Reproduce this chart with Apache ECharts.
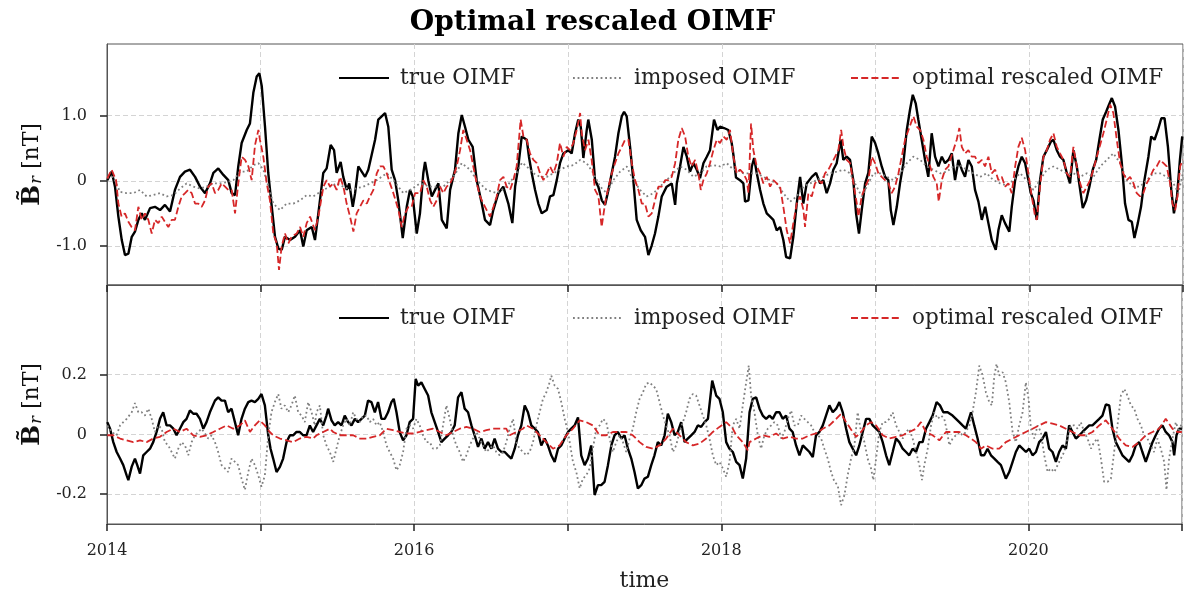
<!DOCTYPE html>
<html>
<head>
<meta charset="utf-8">
<script src="https://cdn.jsdelivr.net/npm/echarts@6/dist/echarts.min.js"></script>
<style>html,body{margin:0;padding:0;background:#fff;}#c{width:1185px;height:595px;}</style>
</head>
<body>
<div id="c"></div>
<script>
const START_YEAR = 2014;
const END_YEAR = 2021;
const TITLE = 'Optimal rescaled OIMF';
const SERIES_NAMES = ['true OIMF', 'imposed OIMF', 'optimal rescaled OIMF'];
const TOP_TICKS = [-1, 0, 1];
const BOTTOM_TICKS = [-0.2, 0, 0.2];

// [years since 2014, value in nT]
const topTrue = [[0.002,0.01],[0.031,0.14],[0.052,-0.09],[0.074,-0.55],[0.096,-0.91],[0.117,-1.14],[0.139,-1.12],[0.161,-0.86],[0.182,-0.78],[0.204,-0.60],[0.226,-0.50],[0.247,-0.60],[0.280,-0.42],[0.312,-0.40],[0.345,-0.45],[0.377,-0.37],[0.410,-0.47],[0.442,-0.14],[0.475,0.06],[0.507,0.14],[0.540,0.17],[0.573,0.06],[0.605,-0.09],[0.638,-0.19],[0.670,-0.04],[0.692,0.12],[0.724,0.19],[0.757,0.09],[0.789,0.01],[0.811,-0.19],[0.833,-0.22],[0.854,0.22],[0.876,0.58],[0.909,0.78],[0.930,0.88],[0.952,1.35],[0.974,1.60],[0.991,1.65],[1.007,1.45],[1.028,0.83],[1.049,0.12],[1.072,-0.40],[1.093,-0.86],[1.115,-1.04],[1.137,-1.06],[1.158,-0.86],[1.191,-0.91],[1.223,-0.86],[1.256,-0.76],[1.277,-1.01],[1.299,-0.76],[1.332,-0.71],[1.353,-0.91],[1.375,-0.50],[1.407,0.12],[1.429,0.19],[1.455,0.55],[1.477,0.47],[1.494,0.12],[1.520,0.29],[1.537,0.06],[1.560,-0.14],[1.576,-0.04],[1.599,-0.40],[1.614,-0.19],[1.635,0.22],[1.657,0.14],[1.679,0.06],[1.700,0.17],[1.722,0.40],[1.744,0.63],[1.765,0.94],[1.787,0.99],[1.809,1.04],[1.830,0.83],[1.852,0.17],[1.874,0.01],[1.895,-0.30],[1.924,-0.88],[1.950,-0.40],[1.971,-0.14],[1.989,-0.24],[2.015,-0.81],[2.036,-0.50],[2.058,0.12],[2.069,0.29],[2.090,0.01],[2.113,-0.24],[2.134,-0.14],[2.156,-0.04],[2.178,-0.60],[2.210,-0.73],[2.232,-0.14],[2.264,0.17],[2.286,0.73],[2.308,1.01],[2.329,0.83],[2.351,0.63],[2.379,0.52],[2.405,0.01],[2.438,-0.35],[2.459,-0.60],[2.492,-0.68],[2.513,-0.45],[2.546,-0.19],[2.578,-0.09],[2.611,-0.35],[2.637,-0.65],[2.655,-0.09],[2.676,0.22],[2.698,0.68],[2.731,0.63],[2.745,0.37],[2.763,0.12],[2.785,-0.14],[2.806,-0.35],[2.828,-0.50],[2.861,-0.45],[2.882,-0.24],[2.904,-0.22],[2.926,0.01],[2.947,0.27],[2.969,0.42],[3.001,0.47],[3.023,0.42],[3.045,0.73],[3.066,0.94],[3.082,0.83],[3.099,0.35],[3.121,0.78],[3.131,0.94],[3.154,0.63],[3.175,0.01],[3.196,-0.09],[3.219,-0.30],[3.240,-0.37],[3.262,-0.14],[3.284,0.12],[3.305,0.37],[3.327,0.73],[3.349,0.99],[3.364,1.06],[3.381,0.99],[3.403,0.52],[3.424,0.01],[3.446,-0.60],[3.472,-0.76],[3.500,-0.86],[3.522,-1.14],[3.544,-0.99],[3.565,-0.81],[3.587,-0.55],[3.609,-0.24],[3.641,-0.09],[3.674,-0.04],[3.696,-0.37],[3.707,-0.04],[3.728,0.22],[3.750,0.52],[3.772,0.37],[3.793,0.14],[3.815,0.27],[3.837,0.17],[3.858,0.04],[3.880,0.27],[3.902,0.37],[3.923,0.47],[3.949,0.94],[3.971,0.78],[3.988,0.83],[4.014,0.81],[4.042,0.78],[4.064,0.58],[4.075,0.40],[4.092,0.05],[4.118,0.01],[4.140,-0.04],[4.151,-0.32],[4.173,-0.30],[4.195,0.22],[4.210,0.35],[4.227,0.12],[4.249,-0.14],[4.270,-0.35],[4.292,-0.50],[4.314,-0.55],[4.335,-0.60],[4.357,-0.76],[4.379,-0.71],[4.400,-0.91],[4.418,-1.17],[4.444,-1.19],[4.465,-0.86],[4.487,-0.35],[4.509,0.06],[4.530,-0.35],[4.552,-0.04],[4.585,0.06],[4.613,0.12],[4.639,-0.04],[4.660,0.01],[4.682,-0.19],[4.704,-0.04],[4.725,0.17],[4.747,0.27],[4.773,0.63],[4.790,0.32],[4.812,0.37],[4.834,0.32],[4.855,0.01],[4.873,-0.50],[4.892,-0.81],[4.910,-0.45],[4.932,-0.04],[4.953,0.12],[4.975,0.68],[4.997,0.58],[5.018,0.42],[5.040,0.22],[5.062,0.06],[5.083,0.01],[5.099,-0.45],[5.116,-0.68],[5.138,-0.40],[5.159,-0.04],[5.181,0.27],[5.203,0.78],[5.224,1.09],[5.242,1.32],[5.261,1.19],[5.278,0.94],[5.300,0.63],[5.322,0.32],[5.343,0.06],[5.365,0.73],[5.387,0.37],[5.409,0.22],[5.431,0.37],[5.452,0.27],[5.474,0.32],[5.496,0.42],[5.517,0.01],[5.539,0.32],[5.561,0.17],[5.582,0.06],[5.604,0.32],[5.626,0.22],[5.647,-0.14],[5.669,-0.32],[5.691,-0.60],[5.713,-0.40],[5.734,-0.65],[5.756,-0.91],[5.782,-1.06],[5.799,-0.76],[5.821,-0.53],[5.842,-0.65],[5.870,-0.78],[5.886,-0.40],[5.908,0.01],[5.929,0.22],[5.951,0.37],[5.973,0.27],[5.994,0.01],[6.010,-0.19],[6.027,-0.30],[6.049,-0.60],[6.070,0.01],[6.092,0.37],[6.114,0.47],[6.140,0.60],[6.157,0.63],[6.179,0.47],[6.200,0.37],[6.222,0.32],[6.244,0.12],[6.265,-0.04],[6.287,0.47],[6.309,0.22],[6.331,-0.14],[6.348,-0.42],[6.370,-0.30],[6.391,-0.09],[6.413,0.17],[6.435,0.32],[6.456,0.63],[6.478,0.94],[6.500,1.06],[6.519,1.17],[6.537,1.27],[6.558,1.14],[6.580,0.78],[6.602,0.27],[6.623,-0.35],[6.645,-0.60],[6.667,-0.63],[6.684,-0.88],[6.706,-0.65],[6.727,-0.40],[6.749,0.01],[6.775,0.37],[6.793,0.68],[6.815,0.63],[6.837,0.78],[6.859,0.96],[6.880,0.96],[6.902,0.52],[6.924,-0.14],[6.941,-0.50],[6.961,-0.24],[6.980,0.32],[6.995,0.68]];

const topImposed = [[0.002,0.05],[0.041,0.06],[0.085,-0.17],[0.128,-0.19],[0.171,-0.19],[0.215,-0.14],[0.258,-0.24],[0.301,-0.22],[0.345,-0.19],[0.388,-0.24],[0.432,-0.22],[0.475,-0.12],[0.518,-0.04],[0.562,-0.09],[0.605,-0.12],[0.648,-0.09],[0.692,-0.04],[0.735,-0.04],[0.779,-0.02],[0.822,0.01],[0.865,0.14],[0.909,0.14],[0.952,0.24],[0.985,0.27],[1.017,0.17],[1.050,-0.09],[1.082,-0.35],[1.126,-0.45],[1.169,-0.35],[1.212,-0.35],[1.256,-0.30],[1.299,-0.22],[1.342,-0.24],[1.408,-0.14],[1.494,-0.04],[1.581,-0.14],[1.668,-0.09],[1.755,0.01],[1.820,0.115],[1.863,0.01],[1.928,-0.19],[1.971,-0.14],[2.036,-0.04],[2.102,-0.09],[2.188,-0.09],[2.253,0.06],[2.308,0.27],[2.362,0.17],[2.405,0.01],[2.470,-0.14],[2.535,-0.19],[2.600,-0.09],[2.665,0.115],[2.700,0.28],[2.731,0.22],[2.774,0.115],[2.817,0.06],[2.861,0.06],[2.904,0.115],[2.947,0.17],[2.991,0.22],[3.034,0.24],[3.078,0.32],[3.121,0.27],[3.164,0.115],[3.208,-0.09],[3.251,-0.19],[3.294,0.01],[3.338,0.14],[3.381,0.22],[3.424,0.01],[3.468,-0.14],[3.511,-0.24],[3.555,-0.19],[3.598,-0.09],[3.641,0.01],[3.685,0.115],[3.728,0.22],[3.771,0.17],[3.815,0.06],[3.858,0.115],[3.901,0.22],[3.945,0.24],[3.988,0.22],[4.032,0.27],[4.075,0.17],[4.097,0.17],[4.140,0.115],[4.184,0.115],[4.227,0.115],[4.270,0.06],[4.314,0.01],[4.357,-0.04],[4.400,-0.19],[4.444,-0.32],[4.487,-0.24],[4.531,-0.09],[4.574,-0.04],[4.617,0.01],[4.661,0.06],[4.704,0.115],[4.747,0.14],[4.791,0.17],[4.834,0.115],[4.877,-0.09],[4.910,-0.24],[4.943,-0.09],[4.986,0.115],[5.029,0.115],[5.073,0.06],[5.116,0.01],[5.160,0.115],[5.203,0.27],[5.246,0.37],[5.290,0.32],[5.333,0.22],[5.376,0.17],[5.420,0.115],[5.463,0.14],[5.506,0.22],[5.550,0.24],[5.593,0.17],[5.636,0.115],[5.680,0.06],[5.723,0.115],[5.766,0.01],[5.810,-0.04],[5.853,-0.07],[5.897,0.01],[5.940,0.115],[5.983,0.01],[6.027,-0.14],[6.070,0.01],[6.114,0.17],[6.157,0.22],[6.200,0.17],[6.244,0.115],[6.287,0.115],[6.330,0.06],[6.374,0.115],[6.417,0.06],[6.461,0.22],[6.504,0.32],[6.547,0.42],[6.591,0.27],[6.634,0.01],[6.678,-0.09],[6.721,-0.09],[6.764,0.01],[6.808,0.115],[6.851,0.115],[6.894,0.06],[6.938,-0.04],[6.970,-0.19],[6.999,0.115]];

const topOptimal = [[0.002,0.035],[0.030,0.17],[0.059,0.01],[0.074,-0.35],[0.095,-0.55],[0.117,-0.50],[0.139,-0.63],[0.160,-0.71],[0.182,-0.76],[0.204,-0.40],[0.226,-0.60],[0.247,-0.50],[0.269,-0.60],[0.291,-0.81],[0.312,-0.60],[0.334,-0.65],[0.356,-0.55],[0.377,-0.63],[0.399,-0.71],[0.421,-0.60],[0.442,-0.60],[0.464,-0.40],[0.486,-0.24],[0.508,-0.19],[0.529,-0.14],[0.551,-0.19],[0.573,-0.35],[0.594,-0.35],[0.616,-0.40],[0.638,-0.30],[0.659,-0.09],[0.681,-0.04],[0.703,-0.19],[0.724,-0.14],[0.746,-0.04],[0.768,-0.09],[0.789,-0.14],[0.811,-0.14],[0.833,-0.50],[0.854,-0.04],[0.876,0.37],[0.898,0.32],[0.920,0.22],[0.941,0.01],[0.963,0.55],[0.985,0.78],[0.995,0.63],[1.017,0.37],[1.039,-0.04],[1.060,-0.30],[1.082,-0.81],[1.104,-0.96],[1.119,-1.37],[1.136,-1.01],[1.158,-0.81],[1.180,-0.96],[1.201,-0.86],[1.234,-0.81],[1.256,-0.71],[1.277,-0.86],[1.299,-0.65],[1.321,-0.55],[1.353,-0.76],[1.375,-0.55],[1.408,-0.09],[1.429,0.01],[1.451,-0.09],[1.473,-0.04],[1.494,-0.14],[1.516,0.06],[1.538,-0.09],[1.559,-0.35],[1.581,-0.55],[1.603,-0.78],[1.624,-0.50],[1.646,-0.40],[1.668,-0.30],[1.690,-0.35],[1.711,-0.24],[1.733,-0.14],[1.755,0.115],[1.776,0.22],[1.798,0.22],[1.820,0.115],[1.841,-0.04],[1.863,-0.19],[1.896,-0.45],[1.917,-0.71],[1.939,-0.50],[1.961,-0.40],[1.982,-0.40],[2.004,-0.19],[2.037,-0.19],[2.058,0.01],[2.080,-0.09],[2.102,-0.30],[2.123,-0.40],[2.145,-0.30],[2.167,-0.09],[2.188,-0.19],[2.210,-0.09],[2.232,-0.04],[2.253,0.06],[2.275,0.22],[2.297,0.47],[2.318,0.78],[2.340,0.63],[2.362,0.47],[2.383,0.22],[2.405,-0.04],[2.427,-0.24],[2.448,-0.35],[2.470,-0.45],[2.492,-0.55],[2.514,-0.40],[2.535,-0.24],[2.557,0.01],[2.579,0.06],[2.600,-0.09],[2.622,-0.14],[2.644,0.01],[2.665,0.22],[2.691,0.94],[2.709,0.68],[2.730,0.63],[2.752,0.42],[2.774,0.32],[2.796,0.27],[2.817,0.115],[2.839,0.01],[2.861,0.115],[2.882,0.22],[2.904,0.115],[2.926,0.27],[2.947,0.58],[2.969,0.37],[2.991,0.52],[3.012,0.47],[3.034,0.58],[3.056,0.78],[3.078,1.04],[3.088,0.73],[3.110,0.47],[3.132,0.63],[3.153,0.32],[3.175,-0.14],[3.197,-0.24],[3.218,-0.71],[3.240,-0.35],[3.262,-0.09],[3.284,0.115],[3.305,0.27],[3.327,0.42],[3.349,0.52],[3.370,0.63],[3.392,0.63],[3.414,0.27],[3.435,0.01],[3.457,-0.14],[3.479,-0.35],[3.500,-0.35],[3.522,-0.55],[3.544,-0.50],[3.565,-0.30],[3.587,-0.09],[3.609,-0.09],[3.631,0.01],[3.652,0.01],[3.674,0.06],[3.696,0.27],[3.717,0.63],[3.739,0.81],[3.761,0.68],[3.782,0.37],[3.804,0.22],[3.826,0.32],[3.847,0.115],[3.863,-0.14],[3.880,0.01],[3.902,0.115],[3.923,0.27],[3.945,0.47],[3.967,0.63],[3.988,0.58],[4.010,0.68],[4.032,0.63],[4.053,0.78],[4.075,0.37],[4.097,0.115],[4.118,0.17],[4.140,0.115],[4.162,0.01],[4.173,-0.19],[4.190,0.88],[4.205,0.47],[4.227,0.22],[4.249,0.115],[4.270,-0.04],[4.292,0.06],[4.314,-0.09],[4.335,0.01],[4.357,-0.04],[4.379,-0.09],[4.400,-0.40],[4.422,-0.76],[4.444,-0.96],[4.465,-0.65],[4.487,-0.35],[4.509,-0.24],[4.531,-0.45],[4.541,-0.71],[4.563,-0.19],[4.585,-0.24],[4.606,-0.04],[4.628,0.01],[4.650,-0.04],[4.671,0.115],[4.693,0.17],[4.715,0.27],[4.737,0.37],[4.758,0.47],[4.776,0.78],[4.791,0.52],[4.812,0.32],[4.834,0.27],[4.856,-0.04],[4.878,-0.35],[4.888,-0.55],[4.910,-0.24],[4.932,-0.09],[4.953,0.01],[4.975,0.37],[4.997,0.27],[5.018,0.115],[5.040,0.06],[5.062,0.01],[5.084,-0.04],[5.105,-0.19],[5.127,-0.09],[5.149,0.115],[5.170,0.37],[5.192,0.63],[5.214,0.78],[5.246,0.99],[5.268,0.83],[5.290,0.78],[5.311,0.63],[5.333,0.37],[5.355,0.22],[5.376,0.06],[5.398,-0.04],[5.411,-0.32],[5.431,0.01],[5.452,0.17],[5.474,0.22],[5.485,0.32],[5.506,0.47],[5.528,0.63],[5.545,0.81],[5.561,0.52],[5.582,0.42],[5.604,0.47],[5.626,0.37],[5.647,0.37],[5.669,0.27],[5.691,0.32],[5.712,0.22],[5.734,0.37],[5.756,0.115],[5.778,0.17],[5.799,0.01],[5.821,0.06],[5.843,-0.09],[5.864,-0.04],[5.886,-0.19],[5.908,0.22],[5.929,0.52],[5.951,0.66],[5.973,0.47],[5.994,0.115],[6.016,-0.24],[6.038,-0.55],[6.049,-0.60],[6.070,-0.09],[6.092,0.37],[6.114,0.47],[6.135,0.63],[6.157,0.73],[6.179,0.52],[6.200,0.42],[6.222,0.32],[6.244,0.115],[6.265,0.06],[6.287,0.52],[6.309,0.22],[6.331,-0.04],[6.352,-0.19],[6.374,-0.09],[6.396,0.01],[6.417,0.17],[6.439,0.37],[6.461,0.55],[6.482,0.73],[6.504,0.94],[6.526,1.17],[6.547,1.04],[6.569,0.63],[6.591,0.27],[6.612,0.115],[6.634,0.01],[6.656,0.06],[6.678,-0.04],[6.699,-0.19],[6.721,-0.24],[6.742,-0.19],[6.764,-0.04],[6.786,0.06],[6.808,0.17],[6.829,0.22],[6.851,0.32],[6.873,0.27],[6.894,0.22],[6.916,-0.04],[6.931,-0.35],[6.949,-0.45],[6.964,-0.24],[6.981,0.22],[6.999,0.32]];

const bottomTrue = [[0.002,0.041],[0.020,0.019],[0.041,-0.026],[0.063,-0.059],[0.085,-0.081],[0.106,-0.103],[0.128,-0.137],[0.139,-0.153],[0.161,-0.108],[0.182,-0.081],[0.197,-0.103],[0.215,-0.131],[0.236,-0.070],[0.258,-0.059],[0.280,-0.048],[0.301,-0.026],[0.323,0.008],[0.345,0.052],[0.366,0.074],[0.388,0.030],[0.410,0.030],[0.432,0.019],[0.453,-0.003],[0.475,0.019],[0.497,0.041],[0.518,0.052],[0.540,0.080],[0.562,0.069],[0.583,0.069],[0.605,0.052],[0.627,0.019],[0.648,0.041],[0.670,0.074],[0.703,0.113],[0.724,0.124],[0.746,0.113],[0.768,0.113],[0.789,0.074],[0.811,0.086],[0.833,0.041],[0.854,-0.003],[0.876,0.052],[0.898,0.086],[0.920,0.108],[0.941,0.113],[0.963,0.108],[0.985,0.119],[1.006,0.135],[1.028,0.097],[1.050,-0.003],[1.065,-0.048],[1.082,-0.081],[1.104,-0.126],[1.126,-0.109],[1.147,-0.081],[1.169,-0.026],[1.191,-0.003],[1.212,-0.003],[1.234,0.008],[1.256,0.008],[1.277,-0.003],[1.299,-0.003],[1.321,0.030],[1.342,0.008],[1.364,0.030],[1.386,0.052],[1.408,0.030],[1.429,0.063],[1.440,0.086],[1.462,0.047],[1.483,0.030],[1.505,0.041],[1.527,0.030],[1.548,0.063],[1.570,0.041],[1.592,0.030],[1.614,0.052],[1.635,0.041],[1.657,0.052],[1.679,0.063],[1.700,0.113],[1.722,0.108],[1.744,0.074],[1.765,0.108],[1.787,0.052],[1.809,0.052],[1.830,0.074],[1.852,0.108],[1.867,0.119],[1.885,0.074],[1.906,0.008],[1.928,-0.020],[1.950,-0.003],[1.971,0.041],[1.993,0.052],[2.010,0.186],[2.026,0.163],[2.047,0.174],[2.069,0.152],[2.091,0.130],[2.112,0.074],[2.134,0.041],[2.156,0.008],[2.177,-0.026],[2.199,-0.014],[2.221,-0.003],[2.242,0.008],[2.264,0.030],[2.286,0.124],[2.308,0.141],[2.329,0.086],[2.351,0.074],[2.373,0.030],[2.394,-0.003],[2.416,-0.042],[2.438,-0.014],[2.459,-0.048],[2.481,-0.026],[2.503,-0.048],[2.524,-0.014],[2.546,-0.048],[2.568,-0.059],[2.590,-0.059],[2.611,-0.070],[2.633,-0.081],[2.655,-0.048],[2.676,-0.003],[2.698,0.030],[2.720,0.097],[2.741,0.074],[2.763,0.030],[2.785,0.019],[2.806,0.008],[2.828,-0.037],[2.850,-0.014],[2.871,-0.037],[2.893,-0.070],[2.915,-0.092],[2.937,-0.048],[2.958,-0.037],[2.980,-0.014],[3.002,0.008],[3.023,0.019],[3.045,0.030],[3.067,0.057],[3.088,-0.070],[3.110,-0.103],[3.132,-0.081],[3.153,-0.037],[3.175,-0.203],[3.197,-0.170],[3.218,-0.170],[3.240,-0.159],[3.262,-0.103],[3.284,-0.037],[3.305,-0.003],[3.327,0.008],[3.349,-0.014],[3.370,-0.003],[3.392,-0.048],[3.414,-0.081],[3.435,-0.126],[3.457,-0.181],[3.479,-0.170],[3.500,-0.148],[3.522,-0.142],[3.544,-0.103],[3.565,-0.070],[3.587,-0.026],[3.609,-0.037],[3.631,-0.003],[3.652,0.069],[3.674,0.041],[3.696,-0.003],[3.717,0.008],[3.739,0.041],[3.761,-0.026],[3.782,-0.014],[3.804,-0.003],[3.826,0.008],[3.847,0.030],[3.869,0.025],[3.891,0.041],[3.913,0.052],[3.941,0.180],[3.967,0.130],[3.988,0.119],[4.010,0.074],[4.032,-0.026],[4.053,-0.048],[4.075,-0.059],[4.097,-0.092],[4.119,-0.103],[4.140,-0.148],[4.162,-0.081],[4.184,0.074],[4.205,0.119],[4.227,0.124],[4.249,0.086],[4.270,0.063],[4.292,0.052],[4.314,0.063],[4.335,0.052],[4.357,0.074],[4.379,0.074],[4.400,0.052],[4.422,0.063],[4.444,0.019],[4.465,0.008],[4.487,-0.037],[4.509,-0.070],[4.531,-0.037],[4.552,-0.048],[4.574,-0.059],[4.596,-0.076],[4.617,-0.003],[4.639,0.008],[4.661,0.030],[4.682,0.063],[4.704,0.097],[4.726,0.074],[4.748,0.086],[4.769,0.108],[4.791,0.074],[4.813,0.019],[4.834,-0.026],[4.856,-0.048],[4.878,-0.070],[4.899,-0.037],[4.921,0.008],[4.943,0.052],[4.964,0.052],[4.986,0.030],[5.008,0.019],[5.029,0.008],[5.051,-0.026],[5.073,-0.070],[5.094,-0.103],[5.116,-0.059],[5.138,-0.014],[5.159,-0.026],[5.181,-0.048],[5.203,-0.059],[5.224,-0.070],[5.246,-0.048],[5.268,-0.059],[5.290,-0.026],[5.311,-0.026],[5.333,0.019],[5.355,0.041],[5.376,0.063],[5.402,0.108],[5.424,0.097],[5.446,0.074],[5.474,0.074],[5.485,0.069],[5.506,0.063],[5.528,0.052],[5.550,0.041],[5.571,0.030],[5.593,0.019],[5.626,0.074],[5.647,0.030],[5.669,-0.014],[5.691,-0.070],[5.712,-0.070],[5.734,-0.048],[5.756,-0.070],[5.778,-0.081],[5.799,-0.092],[5.821,-0.103],[5.853,-0.148],[5.875,-0.126],[5.897,-0.092],[5.918,-0.059],[5.940,-0.037],[5.962,-0.048],[5.984,-0.059],[6.005,-0.048],[6.027,-0.070],[6.049,-0.059],[6.070,-0.026],[6.092,-0.014],[6.114,0.008],[6.135,-0.048],[6.157,-0.059],[6.179,-0.092],[6.200,-0.059],[6.222,-0.037],[6.244,-0.048],[6.265,0.030],[6.287,0.008],[6.309,-0.014],[6.331,-0.003],[6.352,0.008],[6.374,0.019],[6.396,0.030],[6.417,0.030],[6.439,0.041],[6.461,0.052],[6.482,0.063],[6.504,0.100],[6.526,0.097],[6.547,0.019],[6.569,-0.026],[6.591,-0.048],[6.612,-0.070],[6.634,-0.081],[6.656,-0.092],[6.678,-0.070],[6.699,-0.037],[6.721,-0.026],[6.742,-0.059],[6.764,-0.092],[6.786,-0.059],[6.808,-0.026],[6.829,-0.003],[6.851,0.019],[6.873,0.030],[6.894,0.008],[6.916,-0.003],[6.938,-0.026],[6.949,-0.070],[6.964,-0.003],[6.981,0.019],[6.999,0.019]];

const bottomImposed = [[0.002,0.030],[0.030,0.008],[0.063,-0.003],[0.085,0.030],[0.106,0.041],[0.128,0.052],[0.161,0.074],[0.182,0.105],[0.204,0.074],[0.226,0.074],[0.247,0.063],[0.269,0.086],[0.291,0.052],[0.312,0.008],[0.334,0.030],[0.356,0.019],[0.377,-0.026],[0.399,-0.037],[0.421,-0.059],[0.442,-0.081],[0.464,-0.048],[0.486,-0.026],[0.508,-0.037],[0.529,-0.070],[0.551,-0.026],[0.573,-0.003],[0.594,0.008],[0.616,0.019],[0.638,0.003],[0.659,-0.014],[0.681,-0.003],[0.703,-0.026],[0.724,-0.059],[0.746,-0.103],[0.768,-0.114],[0.789,-0.126],[0.811,-0.081],[0.833,-0.092],[0.854,-0.103],[0.876,-0.148],[0.898,-0.186],[0.920,-0.126],[0.941,-0.081],[0.963,-0.103],[0.985,-0.137],[1.006,-0.175],[1.028,-0.137],[1.050,-0.003],[1.071,0.074],[1.093,0.108],[1.115,0.135],[1.136,0.086],[1.158,0.097],[1.180,0.074],[1.201,0.097],[1.223,0.130],[1.245,0.074],[1.267,0.063],[1.288,0.041],[1.310,0.108],[1.332,0.074],[1.353,0.030],[1.364,0.074],[1.386,0.097],[1.408,-0.003],[1.429,-0.037],[1.451,-0.059],[1.473,-0.092],[1.494,-0.048],[1.516,-0.003],[1.538,0.030],[1.559,0.052],[1.581,0.030],[1.603,0.074],[1.624,0.052],[1.646,0.041],[1.668,0.063],[1.690,0.063],[1.711,0.041],[1.733,0.052],[1.755,0.030],[1.776,0.041],[1.798,0.008],[1.820,-0.037],[1.841,-0.059],[1.863,-0.081],[1.885,-0.120],[1.906,-0.103],[1.928,-0.059],[1.950,0.019],[1.971,0.030],[1.993,0.019],[2.015,0.052],[2.036,0.030],[2.058,-0.003],[2.080,-0.026],[2.102,-0.026],[2.123,-0.048],[2.145,-0.048],[2.167,-0.037],[2.188,0.030],[2.210,0.097],[2.232,0.052],[2.253,-0.003],[2.275,-0.037],[2.297,-0.059],[2.318,-0.092],[2.340,-0.070],[2.362,-0.037],[2.383,-0.014],[2.405,0.008],[2.427,-0.014],[2.448,-0.037],[2.470,-0.059],[2.492,-0.048],[2.514,-0.037],[2.535,-0.059],[2.557,-0.070],[2.579,-0.059],[2.600,-0.026],[2.622,0.019],[2.644,0.052],[2.665,-0.026],[2.687,-0.048],[2.709,-0.059],[2.731,-0.070],[2.752,-0.059],[2.774,-0.026],[2.796,0.030],[2.817,0.074],[2.839,0.119],[2.861,0.141],[2.882,0.174],[2.893,0.197],[2.915,0.163],[2.937,0.152],[2.958,0.108],[2.980,0.052],[3.002,0.008],[3.034,-0.092],[3.056,-0.126],[3.078,-0.181],[3.099,-0.148],[3.121,-0.137],[3.143,-0.114],[3.164,-0.048],[3.186,0.019],[3.208,0.030],[3.229,0.052],[3.251,0.041],[3.273,-0.014],[3.294,-0.059],[3.316,-0.026],[3.338,-0.003],[3.360,-0.026],[3.381,-0.059],[3.403,-0.014],[3.424,0.019],[3.446,0.074],[3.468,0.119],[3.490,0.141],[3.511,0.169],[3.533,0.174],[3.555,0.163],[3.576,0.152],[3.598,0.108],[3.620,0.063],[3.641,0.030],[3.663,-0.003],[3.685,-0.059],[3.706,-0.037],[3.728,0.008],[3.750,0.041],[3.771,0.074],[3.793,0.119],[3.815,0.135],[3.836,0.130],[3.858,0.097],[3.880,0.063],[3.902,0.030],[3.923,-0.014],[3.945,-0.070],[3.967,-0.103],[3.988,-0.092],[4.010,-0.114],[4.032,-0.142],[4.053,-0.092],[4.075,0.030],[4.097,0.052],[4.119,0.019],[4.140,0.097],[4.162,0.174],[4.179,0.230],[4.194,0.130],[4.216,0.074],[4.238,-0.003],[4.259,-0.048],[4.281,-0.003],[4.303,0.019],[4.325,0.030],[4.346,0.041],[4.368,0.030],[4.390,-0.014],[4.411,0.008],[4.433,0.052],[4.455,0.080],[4.476,0.030],[4.498,0.030],[4.520,0.063],[4.541,0.052],[4.563,0.041],[4.585,0.030],[4.606,0.008],[4.628,-0.003],[4.650,-0.014],[4.671,-0.048],[4.693,-0.081],[4.715,-0.126],[4.737,-0.159],[4.758,-0.170],[4.780,-0.237],[4.802,-0.203],[4.823,-0.137],[4.845,-0.081],[4.867,-0.037],[4.888,0.074],[4.910,0.008],[4.932,-0.026],[4.953,-0.081],[4.975,-0.114],[4.990,-0.153],[5.008,-0.081],[5.029,0.008],[5.051,0.041],[5.073,0.041],[5.094,0.052],[5.116,0.074],[5.138,0.030],[5.160,0.008],[5.181,-0.014],[5.203,0.008],[5.224,0.019],[5.246,-0.014],[5.268,-0.059],[5.290,-0.103],[5.307,-0.153],[5.322,-0.103],[5.344,-0.048],[5.366,0.030],[5.387,0.074],[5.409,0.052],[5.431,0.063],[5.452,0.052],[5.470,0.010],[5.485,-0.037],[5.506,-0.014],[5.528,-0.003],[5.550,0.008],[5.571,-0.003],[5.593,0.008],[5.615,0.030],[5.636,0.074],[5.658,0.141],[5.680,0.230],[5.702,0.197],[5.723,0.141],[5.745,0.108],[5.762,0.097],[5.778,0.197],[5.793,0.236],[5.810,0.197],[5.832,0.208],[5.853,0.174],[5.875,0.108],[5.897,0.008],[5.918,-0.026],[5.940,0.030],[5.962,0.074],[5.983,0.174],[6.001,0.119],[6.016,0.019],[6.038,-0.014],[6.060,0.030],[6.081,0.008],[6.103,-0.070],[6.125,-0.126],[6.146,-0.114],[6.168,-0.126],[6.190,-0.103],[6.211,-0.081],[6.233,-0.059],[6.254,-0.014],[6.276,0.030],[6.298,0.030],[6.320,0.019],[6.341,0.041],[6.363,0.008],[6.385,-0.014],[6.407,-0.048],[6.428,-0.026],[6.450,-0.014],[6.472,-0.081],[6.493,-0.159],[6.515,-0.159],[6.537,-0.148],[6.558,-0.059],[6.580,0.030],[6.602,0.130],[6.624,0.152],[6.645,0.130],[6.667,0.097],[6.689,0.086],[6.710,0.052],[6.732,0.030],[6.753,-0.003],[6.775,-0.014],[6.797,-0.037],[6.818,-0.059],[6.840,-0.014],[6.862,-0.048],[6.884,-0.092],[6.899,-0.186],[6.916,-0.081],[6.938,-0.014],[6.960,0.041],[6.981,0.008],[6.999,0.041]];

const bottomOptimal = [[0.002,-0.003],[0.041,-0.003],[0.085,-0.014],[0.128,-0.020],[0.171,-0.026],[0.215,-0.020],[0.258,-0.026],[0.301,-0.014],[0.345,-0.008],[0.388,0.008],[0.432,0.019],[0.475,0.008],[0.518,0.019],[0.562,-0.003],[0.605,-0.008],[0.648,-0.003],[0.692,0.008],[0.735,0.019],[0.779,0.030],[0.822,0.019],[0.865,0.030],[0.898,0.047],[0.931,0.008],[0.963,0.030],[0.995,0.047],[1.028,0.030],[1.060,0.008],[1.082,-0.003],[1.126,-0.014],[1.169,-0.020],[1.212,-0.026],[1.256,-0.014],[1.299,-0.008],[1.342,-0.014],[1.364,-0.003],[1.408,0.008],[1.451,0.019],[1.473,0.008],[1.516,-0.003],[1.559,-0.003],[1.603,-0.003],[1.646,-0.014],[1.690,-0.014],[1.733,-0.008],[1.776,-0.003],[1.820,0.019],[1.863,0.014],[1.906,0.008],[1.950,0.003],[1.993,0.003],[2.036,0.008],[2.080,0.014],[2.123,0.019],[2.167,0.008],[2.210,-0.003],[2.253,0.008],[2.297,0.019],[2.340,0.025],[2.383,0.019],[2.427,0.008],[2.470,0.014],[2.514,0.019],[2.557,0.019],[2.600,0.019],[2.622,-0.003],[2.665,0.008],[2.709,0.019],[2.731,0.030],[2.774,0.019],[2.817,-0.003],[2.861,-0.026],[2.904,-0.048],[2.947,-0.037],[2.991,-0.003],[3.034,0.019],[3.078,0.047],[3.121,0.041],[3.164,0.030],[3.208,-0.003],[3.251,-0.003],[3.294,0.008],[3.338,0.008],[3.381,0.008],[3.424,-0.003],[3.468,-0.026],[3.511,-0.042],[3.554,-0.048],[3.598,-0.037],[3.641,-0.014],[3.685,0.019],[3.728,-0.003],[3.771,-0.026],[3.815,-0.037],[3.858,-0.031],[3.902,-0.014],[3.945,0.008],[3.988,0.025],[4.032,0.041],[4.075,0.019],[4.097,-0.003],[4.140,-0.026],[4.173,-0.053],[4.184,-0.026],[4.227,-0.014],[4.270,-0.003],[4.314,-0.008],[4.357,0.003],[4.400,-0.014],[4.444,-0.008],[4.487,-0.014],[4.531,-0.014],[4.574,-0.003],[4.617,0.003],[4.661,0.019],[4.704,0.030],[4.748,0.052],[4.780,0.069],[4.813,0.041],[4.856,0.008],[4.878,-0.008],[4.910,0.008],[4.943,0.030],[4.975,0.041],[5.008,0.030],[5.051,-0.003],[5.094,-0.014],[5.138,-0.008],[5.181,-0.003],[5.224,0.008],[5.268,0.019],[5.300,0.041],[5.333,0.008],[5.376,-0.003],[5.420,-0.020],[5.463,0.008],[5.506,0.008],[5.550,0.008],[5.593,-0.003],[5.626,-0.014],[5.658,-0.026],[5.691,-0.048],[5.723,-0.037],[5.767,-0.048],[5.810,-0.048],[5.853,-0.026],[5.897,-0.014],[5.940,-0.003],[5.983,0.008],[6.027,0.019],[6.070,0.030],[6.114,0.041],[6.157,0.036],[6.200,0.030],[6.244,0.019],[6.287,0.008],[6.331,-0.003],[6.374,-0.003],[6.417,0.008],[6.461,0.030],[6.504,0.047],[6.547,0.019],[6.591,-0.014],[6.634,-0.037],[6.677,-0.042],[6.721,-0.026],[6.764,-0.003],[6.808,0.008],[6.851,0.019],[6.894,0.052],[6.938,0.019],[6.970,0.008],[6.999,0.008]];

const SERIF = "'DejaVu Serif', serif";
const COLORS = ['#000000', '#7f7f7f', '#d62728'];
const LINE_STYLES = [
  { width: 2.4, type: 'solid' },
  { width: 1.8, type: [1.8, 2.8], cap: 'butt' },
  { width: 1.8, type: [7, 3.2] }
];

function toYears(arr) { return arr.map(p => [START_YEAR + p[0], p[1]]); }

const panels = [
  { data: [topTrue, topImposed, topOptimal], min: -1.6, max: 2.1, ticks: TOP_TICKS, top: 44, height: 241, legendTop: 62, showX: false },
  { data: [bottomTrue, bottomImposed, bottomOptimal], min: -0.3, max: 0.5, ticks: BOTTOM_TICKS, top: 285, height: 239, legendTop: 302, showX: true }
];

const gridLine = { show: true, lineStyle: { color: '#d4d4d4', type: [5, 3], width: 1 } };
const frameColor = '#555';

const option = {
  animation: false,
  backgroundColor: '#fff',
  title: {
    text: TITLE, left: 'center', top: 4,
    textStyle: { fontFamily: SERIF, fontWeight: 'bold', fontSize: 28, color: '#000' }
  },
  grid: panels.map(p => ({ left: 107, right: 2, top: p.top, height: p.height, show: true, borderColor: frameColor, borderWidth: 1, backgroundColor: 'transparent' })),
  xAxis: panels.map((p, i) => ({
    type: 'value', gridIndex: i, min: START_YEAR, max: END_YEAR, interval: 1,
    axisLine: { show: true, onZero: false, lineStyle: { color: frameColor, width: 1 } },
    axisTick: { show: true, length: 7, lineStyle: { color: '#222', width: 1.5 } },
    axisLabel: { show: p.showX, margin: 19, fontFamily: SERIF, fontSize: 16, color: '#222',
      formatter: v => (v % 2 === 0 ? String(v) : '') },
    splitLine: gridLine,
    name: p.showX ? 'time' : '', nameLocation: 'middle', nameGap: 46,
    nameTextStyle: { fontFamily: SERIF, fontSize: 22, color: '#222' }
  })),
  yAxis: panels.map((p, i) => ({
    type: 'value', gridIndex: i, min: p.min, max: p.max,
    axisLine: { show: true, onZero: false, lineStyle: { color: frameColor, width: 1 } },
    axisTick: { show: true, length: 7, customValues: p.ticks, lineStyle: { color: '#222', width: 1.5 } },
    axisLabel: { customValues: p.ticks, margin: 20, fontFamily: SERIF, fontSize: 16, color: '#222',
      formatter: v => (Math.abs(v) < 1e-9 ? '0' : v.toFixed(1)) },
    splitLine: gridLine,
    name: '{b|B\u0303}{s|r}{n| [nT]}', nameLocation: 'middle', nameRotate: 90, nameGap: 60,
    nameTextStyle: {
      rich: {
        b: { fontFamily: SERIF, fontWeight: 'bold', fontSize: 25, color: '#111' },
        s: { fontFamily: SERIF, fontStyle: 'italic', fontSize: 16, color: '#111', verticalAlign: 'bottom', padding: [10, 0, 0, 1] },
        n: { fontFamily: SERIF, fontSize: 22, color: '#111' }
      }
    }
  })),
  legend: [],
  series: []
};

const legendLefts = [333, 567, 845];
panels.forEach((p, gi) => {
  SERIES_NAMES.forEach((name, si) => {
    option.series.push({
      type: 'line', name, xAxisIndex: gi, yAxisIndex: gi,
      data: toYears(p.data[si]), symbol: 'none', showSymbol: false,
      lineStyle: Object.assign({ color: COLORS[si] }, LINE_STYLES[si]),
      itemStyle: { color: COLORS[si] }, z: 2 + si, silent: true
    });
    option.legend.push({
      data: [name], left: legendLefts[si], top: p.legendTop, orient: 'horizontal',
      itemWidth: 50, itemHeight: 14, selectedMode: false,
      itemStyle: { opacity: 0 },
      textStyle: { fontFamily: SERIF, fontSize: 21.5, color: '#222', padding: [0, 0, 0, 6] }
    });
  });
});

const chart = echarts.init(document.getElementById('c'), null, { renderer: 'canvas' });
chart.setOption(option);
</script>
</body>
</html>
